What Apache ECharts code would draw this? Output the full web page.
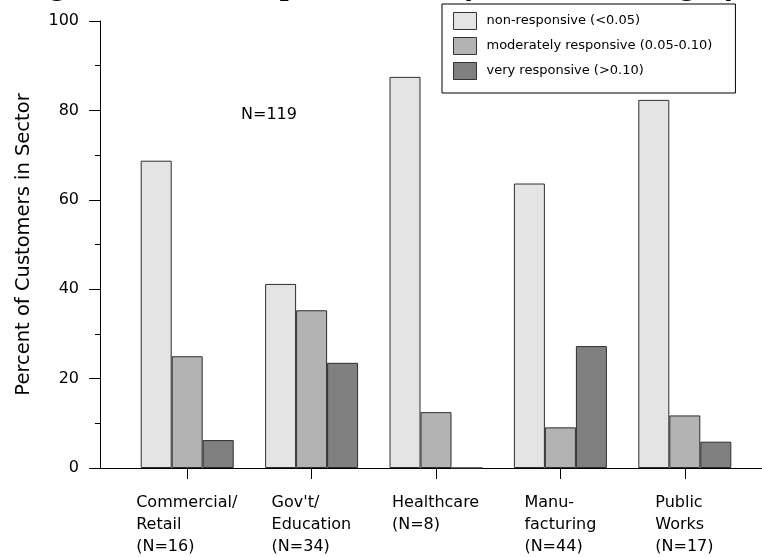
<!DOCTYPE html>
<html>
<head>
<meta charset="utf-8">
<script src="https://cdn.jsdelivr.net/npm/echarts@6/dist/echarts.min.js"></script>
<style>
html,body{margin:0;padding:0;background:#fff;}
#chart{width:762px;height:557px;}
</style>
</head>
<body>
<div id="chart"></div>
<script>
// ---- data ----
const titleText = 'Figure 5. Price Responsiveness by Business Category';
const categories = ['Commercial/\nRetail\n(N=16)', "Gov't/\nEducation\n(N=34)", 'Healthcare\n(N=8)', 'Manu-\nfacturing\n(N=44)', 'Public\nWorks\n(N=17)'];
const seriesNames = ['non-responsive (<0.05)', 'moderately responsive (0.05-0.10)', 'very responsive (>0.10)'];
const nonResponsive = [68.75, 41.18, 87.5, 63.64, 82.35];
const moderatelyResponsive = [25.0, 35.29, 12.5, 9.09, 11.76];
const veryResponsive = [6.25, 23.53, 0, 27.27, 5.88];
const yAxisName = 'Percent of Customers in Sector';
const yMin = 0, yMax = 100, yInterval = 20;
const annotation = 'N=119';

// ---- styling ----
const FONT = 'DejaVu Sans';
const colors = ['#e4e4e4', '#b3b3b3', '#808080'];
const seriesData = [nonResponsive, moderatelyResponsive, veryResponsive];

const ctx = document.createElement('canvas').getContext('2d');
ctx.font = '16px "' + FONT + '"';
const rich = {};
categories.forEach((c, i) => {
  const w = Math.max(...c.split('\n').map(l => ctx.measureText(l).width));
  rich['w' + i] = { width: Math.ceil(w), align: 'left', fontSize: 16, lineHeight: 22, fontFamily: FONT, color: '#000' };
});
// legend box: right edge fixed
ctx.font = '13px "' + FONT + '"';
const legendTextW = Math.max(...seriesNames.map(s => ctx.measureText(s).width));
const legendLeft = 442, legendRight = 735, legendPadL = 11, swatchW = 23, textGap = 10;
const legendPadR = Math.max(4, Math.round(legendRight - (legendLeft + legendPadL + swatchW + textGap + legendTextW)));

const chart = echarts.init(document.getElementById('chart'), null, { renderer: 'canvas' });
const option = {
  backgroundColor: '#fff',
  animation: false,
  title: {
    text: titleText, left: 'center', top: -30, padding: 0,
    textStyle: { fontFamily: 'Liberation Serif', fontWeight: 'bold', fontSize: 32, color: '#000' }
  },
  legend: {
    orient: 'vertical', left: legendLeft, top: 4,
    padding: [8, legendPadR, 13, legendPadL],
    itemWidth: swatchW, itemHeight: 17, itemGap: 7,
    icon: 'rect',
    borderColor: '#000', borderWidth: 1, backgroundColor: '#fff',
    textStyle: { fontFamily: FONT, fontSize: 13, color: '#000', padding: [0, 0, 0, textGap - 5] },
    itemStyle: { borderColor: '#333', borderWidth: 1 },
    data: seriesNames
  },
  grid: [
    { left: 125, right: 15, top: 21, bottom: 89, containLabel: false },
    { left: 100, right: 0, top: 21, bottom: 89, containLabel: false }
  ],
  xAxis: [
    {
      type: 'category', gridIndex: 0, data: categories,
      axisLine: { show: false },
      axisTick: { show: true, alignWithLabel: true, length: 11, lineStyle: { color: '#000', width: 1 } },
      axisLabel: {
        margin: 24, interval: 0,
        formatter: (v, i) => v.split('\n').map(l => '{w' + i + '|' + l + '}').join('\n'),
        rich: rich
      }
    },
    {
      type: 'value', gridIndex: 1, min: 0, max: 1,
      axisLine: { show: true, lineStyle: { color: '#000', width: 1 } },
      axisTick: { show: false }, axisLabel: { show: false }, splitLine: { show: false }
    }
  ],
  yAxis: [
    {
      type: 'value', gridIndex: 0, min: yMin, max: yMax, interval: yInterval, offset: 25,
      name: yAxisName, nameLocation: 'middle', nameGap: 66, nameRotate: 90,
      nameTextStyle: { fontFamily: FONT, fontSize: 19.5, color: '#000' },
      axisLine: { show: true, lineStyle: { color: '#000', width: 1 } },
      axisTick: { show: true, length: 11, lineStyle: { color: '#000' } },
      minorTick: { show: true, splitNumber: 2, length: 5, lineStyle: { color: '#000' } },
      axisLabel: { fontFamily: FONT, fontSize: 16, color: '#000', margin: 21 },
      splitLine: { show: false }
    },
    { type: 'value', gridIndex: 1, show: false, min: 0, max: 1 }
  ],
  series: seriesNames.map((name, k) => ({
    name: name, type: 'bar', xAxisIndex: 0, yAxisIndex: 0,
    data: seriesData[k], barWidth: 31, barGap: '0%',
    itemStyle: { color: colors[k], borderColor: '#2e2e2e', borderWidth: 1 }
  })),
  graphic: [
    { type: 'text', left: 241, top: 107, style: { text: annotation, font: '16px "' + FONT + '"', fill: '#000' } }
  ]
};
chart.setOption(option);
</script>
</body>
</html>
